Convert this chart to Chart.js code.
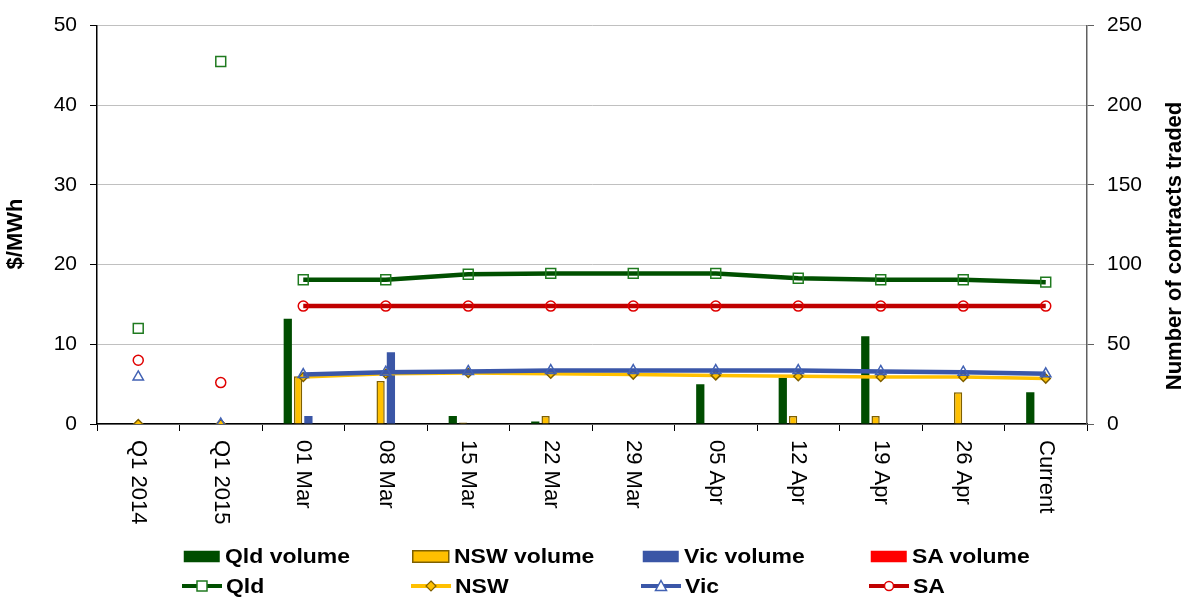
<!DOCTYPE html>
<html>
<head>
<meta charset="utf-8">
<script src="https://cdn.jsdelivr.net/npm/chart.js@4.4.1/dist/chart.umd.min.js"></script>
<style>
    body { margin: 0; background: #fff; font-family: "Liberation Sans", Arial, sans-serif; }
    #wrap { position: relative; width: 1189px; height: 597px; }
    .leg { position: absolute; display: flex; align-items: center; font-weight: bold; font-size: 20.5px; color: #000; white-space: nowrap; }
    .leg svg { margin-right: 4px; }
    .leg span { display: inline-block; transform: scaleX(1.12); transform-origin: left center; }
</style>
</head>
<body>
<div id="wrap">
    <canvas id="chart" width="1189" height="597"></canvas>
    <div id="legend"></div>
</div>
<script>
// categories and tick labels
const categories = ['Q1 2014', 'Q1 2015', '01 Mar', '08 Mar', '15 Mar', '22 Mar', '29 Mar', '05 Apr', '12 Apr', '19 Apr', '26 Apr', 'Current'];
const priceTicks = [0, 10, 20, 30, 40, 50];
const volumeTicks = [0, 50, 100, 150, 200, 250];

// volumes (contracts traded, right axis)
const qldVolume = [0, 0, 66, 0, 5, 1.5, 0, 25, 29, 55, 0, 20];
const nswVolume = [0, 0, 30, 27, 1, 5, 0, 0, 5, 5, 20, 0];
const vicVolume = [0, 0, 5, 45, 0, 0, 0, 0, 0, 0, 0, 0];
const saVolume  = [0, 0, 0, 0, 0, 0, 0, 0, 0, 0, 0, 0];

// prices ($/MWh, left axis)
const qldPrice = [12.0, 45.5, 18.1, 18.1, 18.8, 18.9, 18.9, 18.9, 18.3, 18.1, 18.1, 17.8];
const nswPrice = [0, 0, 5.9, 6.3, 6.4, 6.3, 6.2, 6.1, 6.0, 5.9, 5.9, 5.7];
const vicPrice = [5.9, 0, 6.2, 6.5, 6.6, 6.7, 6.7, 6.7, 6.7, 6.6, 6.5, 6.3];
const saPrice  = [8.0, 5.2, 14.8, 14.8, 14.8, 14.8, 14.8, 14.8, 14.8, 14.8, 14.8, 14.8];

const FONT = '"Liberation Sans", Arial, sans-serif';
Chart.defaults.font.family = FONT;
Chart.defaults.color = '#000';

// the two quarterly points stand alone, no line joins them
const hideEarly = color => ctx => ctx.p1DataIndex <= 2 ? 'rgba(0,0,0,0)' : color;

function barSet(label, data, fill, border) {
    return {
        type: 'bar', label, data, yAxisID: 'yVol', order: 10,
        backgroundColor: fill, borderColor: border, borderWidth: border ? 1.5 : 0,
        barPercentage: 0.8, categoryPercentage: 0.5
    };
}

function lineSet(label, data, color, width, style, radius, ptBorder, ptFill, order) {
    return {
        type: 'line', label, data, yAxisID: 'yPrice', order,
        borderColor: color, borderWidth: width, tension: 0,
        segment: { borderColor: hideEarly(color) },
        pointStyle: style, pointRadius: radius, pointHoverRadius: radius,
        pointBorderColor: ptBorder, pointBackgroundColor: ptFill, pointBorderWidth: 1.5
    };
}

const datasets = [
    barSet('Qld volume', qldVolume, '#004d00'),
    barSet('NSW volume', nswVolume, '#ffc000', '#7f6000'),
    barSet('Vic volume', vicVolume, '#3a56a6'),
    barSet('SA volume', saVolume, '#ff0000'),
    lineSet('Qld', qldPrice, '#005000', 4.5, 'rect', 7, '#1f7a1f', 'rgba(255,255,255,0)', 4),
    lineSet('NSW', nswPrice, '#ffc000', 3.5, 'rectRot', 4.5, '#806000', '#ffc000', 3),
    lineSet('Vic', vicPrice, '#3b57a8', 4.5, 'triangle', 6, '#4262b4', 'rgba(255,255,255,0)', 2),
    lineSet('SA', saPrice, '#c00000', 4.5, 'circle', 5, '#e00000', 'rgba(255,255,255,0)', 1)
];

const axisText = {
    id: 'axisText',
    afterDraw(chart) {
        const ctx = chart.ctx;
        const x = chart.scales.x;
        ctx.save();
        ctx.fillStyle = '#000';
        ctx.font = '22px ' + FONT;
        ctx.textAlign = 'left';
        ctx.textBaseline = 'middle';
        categories.forEach((lab, i) => {
            ctx.save();
            ctx.translate(x.getPixelForValue(i), chart.chartArea.bottom + 16);
            ctx.rotate(Math.PI / 2);
            ctx.fillText(lab, 0, 0);
            ctx.restore();
        });
        ctx.font = 'bold 22px ' + FONT;
        ctx.textAlign = 'center';
        ctx.save();
        ctx.translate(16, 234);
        ctx.rotate(-Math.PI / 2);
        ctx.fillText('$/MWh', 0, 0);
        ctx.restore();
        ctx.save();
        ctx.translate(1175, 246);
        ctx.rotate(-Math.PI / 2);
        ctx.fillText('Number of contracts traded', 0, 0);
        ctx.restore();
        ctx.restore();
    }
};

new Chart(document.getElementById('chart'), {
    data: { labels: categories, datasets },
    options: {
        responsive: false,
        animation: false,
        layout: { padding: { top: 24, bottom: 63, left: 0, right: 0 } },
        plugins: { legend: { display: false }, tooltip: { enabled: false } },
        scales: {
            x: {
                offset: true,
                grid: { offset: true, drawOnChartArea: false, tickLength: 7, tickColor: '#000' },
                border: { color: '#000', width: 1.5 },
                ticks: { display: false },
                afterFit: s => { s.height = 110; }
            },
            yPrice: {
                position: 'left', min: 0, max: 50,
                afterBuildTicks: s => { s.ticks = priceTicks.map(v => ({ value: v })); },
                grid: { color: '#c0c0c0', tickColor: '#000', tickLength: 7 },
                border: { color: '#000', width: 1.5 },
                ticks: { font: { size: 21 }, padding: 13 },
                afterFit: s => { s.width = 97; }
            },
            yVol: {
                position: 'right', min: 0, max: 250,
                afterBuildTicks: s => { s.ticks = volumeTicks.map(v => ({ value: v })); },
                grid: { drawOnChartArea: false, tickColor: '#606060', tickLength: 7 },
                border: { color: '#606060', width: 1.5 },
                ticks: { font: { size: 21 }, padding: 13 },
                afterFit: s => { s.width = 102; }
            }
        }
    },
    plugins: [axisText]
});

// legend laid out in Excel's four columns
const legendCols = [183, 412, 642, 870];
const legendRows = [556, 586];
const markerSvg = {
    rect: (c, f) => `<rect x="15" y="2" width="10" height="10" fill="${f}" stroke="${c}" stroke-width="1.5"/>`,
    rectRot: (c, f) => `<polygon points="20,2 25,7 20,12 15,7" fill="${f}" stroke="${c}" stroke-width="1.2"/>`,
    triangle: (c, f) => `<polygon points="20,1.5 25.5,11.5 14.5,11.5" fill="${f}" stroke="${c}" stroke-width="1.5"/>`,
    circle: (c, f) => `<circle cx="20" cy="7" r="4.5" fill="${f}" stroke="${c}" stroke-width="1.5"/>`
};
const legend = document.getElementById('legend');
datasets.forEach((d, i) => {
    const row = i < 4 ? 0 : 1;
    const col = i % 4;
    let svg;
    if (d.type === 'bar') {
        const stroke = d.borderColor ? `stroke="${d.borderColor}" stroke-width="1.5"` : '';
        svg = `<svg width="38" height="13"><rect x="0.75" y="0.75" width="36" height="11.5" fill="${d.backgroundColor}" ${stroke}/></svg>`;
    } else {
        svg = `<svg width="40" height="14"><line x1="0" y1="7" x2="40" y2="7" stroke="${d.borderColor}" stroke-width="4" stroke-linecap="round"/>` +
            markerSvg[d.pointStyle](d.pointBorderColor, d.pointStyle === 'rectRot' ? d.pointBackgroundColor : '#fff') + '</svg>';
    }
    const el = document.createElement('div');
    el.className = 'leg';
    el.style.left = (legendCols[col] - (d.type === 'bar' ? 0 : 1)) + 'px';
    el.style.top = (legendRows[row] - 12) + 'px';
    el.style.height = '24px';
    el.innerHTML = svg + `<span>${d.label}</span>`;
    legend.appendChild(el);
});
</script>
</body>
</html>
